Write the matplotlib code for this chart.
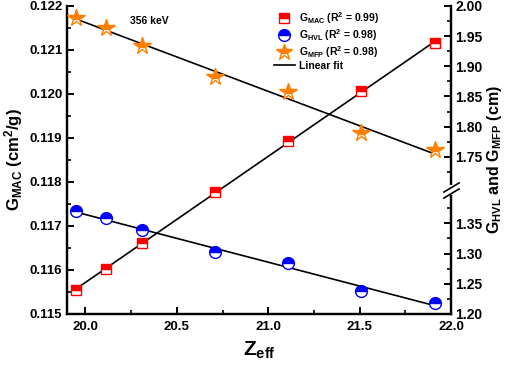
import numpy as np
import matplotlib
matplotlib.use("Agg")
import matplotlib.pyplot as plt
from matplotlib.lines import Line2D

plt.rcParams["font.family"] = "Liberation Sans"
plt.rcParams["font.weight"] = "bold"
plt.rcParams["axes.labelweight"] = "bold"
plt.rcParams["mathtext.fontset"] = "custom"
plt.rcParams["mathtext.rm"] = "Liberation Sans:bold"
plt.rcParams["mathtext.it"] = "Liberation Sans:bold"
plt.rcParams["mathtext.bf"] = "Liberation Sans:bold"
plt.rcParams["mathtext.default"] = "rm"

# data
z_eff = [19.95, 20.11, 20.31, 20.71, 21.11, 21.51, 21.91]
g_mac = [0.11555, 0.11602, 0.11661, 0.11777, 0.11892, 0.12006, 0.12115]
g_hvl = [1.370, 1.358, 1.339, 1.302, 1.284, 1.238, 1.218]
g_mfp = [1.980, 1.964, 1.934, 1.883, 1.857, 1.789, 1.761]

red = "#ff0000"
blue = "#0000ff"
orange = "#ff8000"

# broken right axis: 1.40 -> 1.70 squeezed
def fwd(y):
    return np.interp(y, [-10, 1.40, 1.70, 10], [-10, 1.40, 1.41, 9.71])

def inv(y):
    return np.interp(y, [-10, 1.40, 1.41, 9.71], [-10, 1.40, 1.70, 10])

fig = plt.figure(figsize=(5.05, 3.68), dpi=100)
ax = fig.add_axes([0.133, 0.147, 0.760, 0.837])
ax2 = ax.twinx()

x = np.array(z_eff)
xx = np.array([x[0], x[-1]])

# MAC on left axis
p = np.polyfit(x, g_mac, 1)
ax.plot(xx, np.polyval(p, xx), color="black", lw=1.2, zorder=2)
ax.plot(x, g_mac, ls="none", marker="s", ms=7, mfc=red, mec=red,
        fillstyle="top", markerfacecoloralt="white", mew=1.0, zorder=3)

# HVL / MFP on right axis
ax2.set_yscale("function", functions=(fwd, inv))
p = np.polyfit(x, g_hvl, 1)
ax2.plot(xx, np.polyval(p, xx), color="black", lw=1.2, zorder=2)
ax2.plot(x, g_hvl, ls="none", marker="o", ms=8.5, mfc=blue, mec=blue,
         fillstyle="top", markerfacecoloralt="white", mew=1.0, zorder=3)
p = np.polyfit(x, g_mfp, 1)
ax2.plot(xx, np.polyval(p, xx), color="black", lw=1.2, zorder=2)
ax2.plot(x, g_mfp, ls="none", marker="*", ms=13, mfc=orange, mec=orange,
         fillstyle="top", markerfacecoloralt="white", mew=1.0, zorder=3)

ax.set_xlim(19.9, 22.0)
ax.set_ylim(0.115, 0.122)
ax2.set_ylim(1.20, 2.00)

ax.set_xticks([20.0, 20.5, 21.0, 21.5, 22.0])
ax.set_xticks([20.25, 20.75, 21.25, 21.75], minor=True)
ax.set_yticks(np.arange(0.115, 0.12201, 0.001))
ax.set_yticks(np.arange(0.1155, 0.1221, 0.001), minor=True)
ax.yaxis.set_major_formatter(plt.FormatStrFormatter("%.3f"))

maj = [1.20, 1.25, 1.30, 1.35, 1.75, 1.80, 1.85, 1.90, 1.95, 2.00]
mnr = [1.225, 1.275, 1.325, 1.375, 1.725, 1.775, 1.825, 1.875, 1.925, 1.975]
ax2.set_yticks(maj)
ax2.set_yticks(mnr, minor=True)
ax2.yaxis.set_major_formatter(plt.FormatStrFormatter("%.2f"))

for a in (ax, ax2):
    a.spines["top"].set_visible(False)
    for s in a.spines.values():
        s.set_linewidth(1.6)
    a.tick_params(which="major", direction="in", length=5, width=1.4, labelsize=9.5)
    a.tick_params(which="minor", direction="in", length=3, width=1.2)
    for lb in a.get_xticklabels() + a.get_yticklabels():
        lb.set_fontweight("bold")
ax.tick_params(axis="y", right=False, which="both")
ax.tick_params(axis="x", pad=5)
ax2.tick_params(axis="y", labelsize=10, pad=3)

ax.set_xlabel(r"Z$_{eff}$", fontsize=15, labelpad=5)
ax.set_ylabel(r"G$_{MAC}$ (cm$^{2}$/g)", fontsize=12, labelpad=3)
ax2.set_ylabel(r"G$_{HVL}$ and G$_{MFP}$ (cm)", fontsize=11.5, labelpad=2)

# axis break marks
ax2.plot([1, 1], [1.40, 1.70], transform=ax2.get_yaxis_transform(), color="white",
         lw=3, clip_on=False, zorder=5)
for yb in (1.40, 1.70):
    ax2.plot([1], [yb], transform=ax2.get_yaxis_transform(), marker=[(-1, -0.6), (1, 0.6)],
             ms=12, mec="black", mew=1.2, ls="none", clip_on=False, zorder=6)

ax.text(0.165, 0.94, "356 keV", transform=ax.transAxes, fontsize=7.5, fontweight="bold")

handles = [
    Line2D([], [], ls="none", marker="s", ms=7, mfc=red, mec=red, fillstyle="top",
           markerfacecoloralt="white"),
    Line2D([], [], ls="none", marker="o", ms=8.5, mfc=blue, mec=blue, fillstyle="top",
           markerfacecoloralt="white"),
    Line2D([], [], ls="none", marker="*", ms=12, mfc=orange, mec=orange, fillstyle="top",
           markerfacecoloralt="white"),
    Line2D([], [], color="black", lw=1.2),
]
labels = [
    r"G$_{MAC}$ (R$^{2}$ = 0.99)",
    r"G$_{HVL}$ (R$^{2}$ = 0.98)",
    r"G$_{MFP}$ (R$^{2}$ = 0.98)",
    "Linear fit",
]
ax2.legend(handles, labels, loc="upper left", bbox_to_anchor=(0.52, 1.01), frameon=False,
           prop={"size": 7.5, "weight": "bold"}, labelspacing=0.1, handlelength=2.0,
           handletextpad=0.4, borderpad=0.2)

fig.savefig("out.png", dpi=100)
